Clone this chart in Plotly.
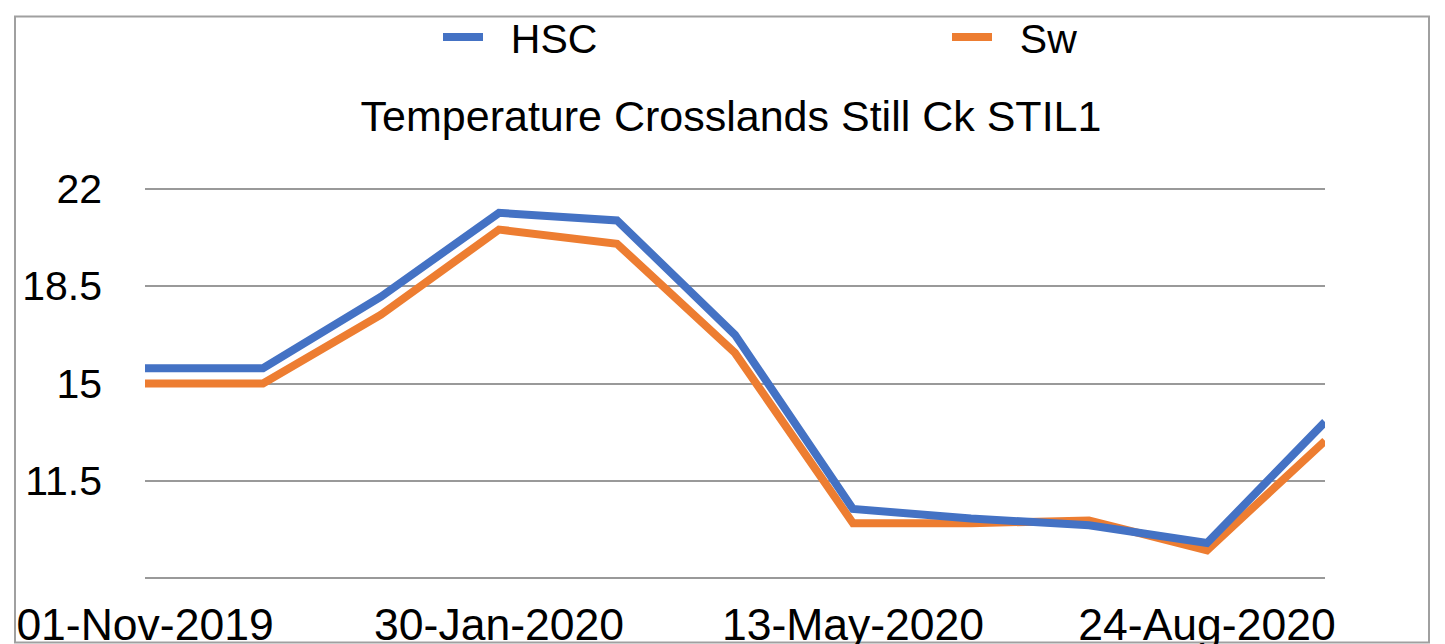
import plotly.graph_objects as go

# ---- data ----
dates = ["01-Nov-2019", "01-Dec-2019", "02-Jan-2020", "30-Jan-2020", "03-Mar-2020",
         "08-Apr-2020", "13-May-2020", "16-Jun-2020", "21-Jul-2020", "24-Aug-2020",
         "28-Sep-2020"]
hsc = [15.55, 15.55, 18.12, 21.13, 20.86, 16.75, 10.49, 10.15, 9.91, 9.27, 13.62]
sw = [15.0, 15.0, 17.47, 20.53, 20.02, 16.10, 9.98, 9.98, 10.08, 9.01, 12.94]
tick_dates = ["01-Nov-2019", "30-Jan-2020", "13-May-2020", "24-Aug-2020"]
y_ticks = [8, 11.5, 15, 18.5, 22]
y_ticktext = ["", "11.5", "15", "18.5", "22"]
title_text = "Temperature Crosslands Still Ck STIL1"
series_names = ["HSC", "Sw"]

BLUE = "#4472C4"
ORANGE = "#ED7D31"
FONT = "Liberation Sans, Arial, Helvetica, sans-serif"
NBSP = "\u00a0"

fig = go.Figure()
fig.add_trace(go.Scatter(x=dates, y=sw, mode="lines", name=NBSP * 2 + series_names[1],
                         line=dict(color=ORANGE, width=8), legendrank=2))
fig.add_trace(go.Scatter(x=dates, y=hsc, mode="lines", name=NBSP * 2 + series_names[0],
                         line=dict(color=BLUE, width=8), legendrank=1))

OFF = 8                      # page body margin
W, H = 1445 - OFF, 644 - OFF
# target pixel positions (page coordinates) converted to figure coordinates
X0, X1 = 145 - OFF, 1325 - OFF
Y22, Y8 = 189 - OFF, 578 - OFF
pad_v = 0.06                 # small range padding so edge gridlines are drawn
ppu = (Y8 - Y22) / (22 - 8)
T = Y22 - pad_v * ppu
B = H - (Y8 + pad_v * ppu)
L, R = X0, W - X1
pw, ph = W - L - R, H - T - B

def px_x(x):
    return (x - OFF - L) / pw

def px_y(y):
    return (H - B - (y - OFF)) / ph

fig.update_layout(
    width=W, height=H,
    margin=dict(l=L, r=R, t=T, b=B, pad=0, autoexpand=False),
    paper_bgcolor="white", plot_bgcolor="white",
    font=dict(family=FONT, color="black", size=41),
    title=dict(text=title_text, x=(731 - OFF) / W, xref="container", xanchor="center",
               y=1 - (116 - OFF) / H, yref="container", yanchor="middle",
               font=dict(size=43, color="black", family=FONT)),
    legend=dict(orientation="h", x=px_x(438), y=px_y(38), xanchor="left",
                yanchor="middle", xref="paper", yref="paper",
                entrywidth=454, entrywidthmode="pixels", itemwidth=40,
                font=dict(size=41), bgcolor="rgba(0,0,0,0)", traceorder="normal"),
    showlegend=True,
)
fig.update_xaxes(type="category", range=[0, len(dates) - 1],
                 tickmode="array", tickvals=tick_dates, ticktext=tick_dates,
                 showgrid=False, showline=False, zeroline=False, ticks="",
                 tickfont=dict(size=44.5), ticklabelstandoff=14, automargin=False)
fig.update_yaxes(range=[8 - pad_v, 22 + pad_v], tickmode="array", tickvals=y_ticks,
                 ticktext=y_ticktext,
                 showgrid=True, gridcolor="#999999", gridwidth=2,
                 showline=False, zeroline=False, ticks="",
                 tickfont=dict(size=41), ticklabelstandoff=42, automargin=False)

fig.add_shape(type="rect", xref="paper", yref="paper",
              x0=px_x(15), x1=px_x(1429), y0=px_y(642), y1=px_y(17),
              line=dict(color="#a0a0a0", width=2), fillcolor="rgba(0,0,0,0)",
              layer="below")

fig.write_html("out.html")
